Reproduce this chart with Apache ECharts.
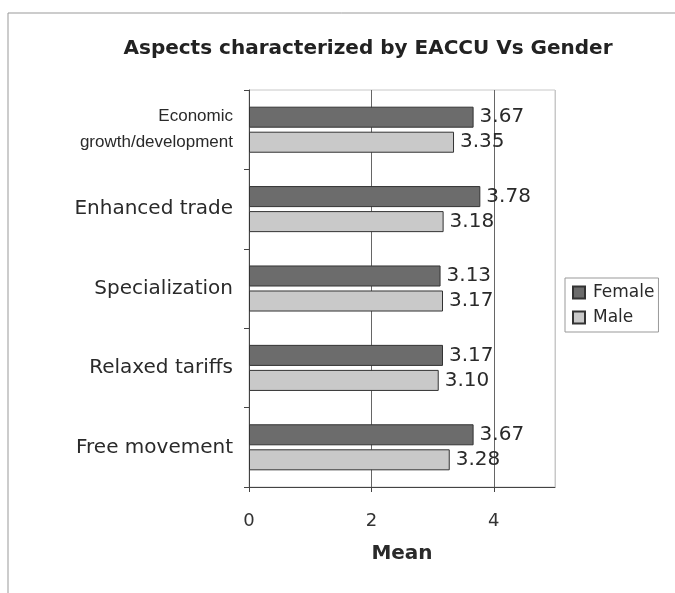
<!DOCTYPE html>
<html><head><meta charset="utf-8">
<script src="https://cdn.jsdelivr.net/npm/echarts@6/dist/echarts.min.js"></script>
<style>html,body{margin:0;padding:0;background:#fff}#c{width:675px;height:593px}</style>
</head><body><div id="c"></div>
<script>
const categories = ["Economic\ngrowth/development", "Enhanced trade", "Specialization", "Relaxed tariffs", "Free movement"];
const female = [3.67, 3.78, 3.13, 3.17, 3.67];
const male = [3.35, 3.18, 3.17, 3.10, 3.28];
const xTicks = [0, 2, 4];

const chart = echarts.init(document.getElementById('c'));
const font = "DejaVu Sans, sans-serif";
const lbl = {show: true, position: 'right', distance: 6, color: '#2a2a2a', fontSize: 20, fontFamily: font,
  formatter: p => p.value.toFixed(2)};
chart.setOption({
  animation: false,
  title: {text: 'Aspects characterized by EACCU Vs Gender', left: 363, textAlign: 'center', top: 34,
    textStyle: {fontSize: 20, fontWeight: 'bold', color: '#222', fontFamily: font}},
  legend: {orient: 'vertical', left: 565, top: 278, itemWidth: 12, itemHeight: 12, itemGap: 8, icon: 'rect',
    padding: [6, 4, 6, 7], borderColor: '#999', borderWidth: 1,
    textStyle: {fontSize: 17, color: '#2a2a2a', fontFamily: font, padding: [0, 0, 0, 3]},
    data: ['Female', 'Male']},
  grid: {left: 249, right: 120, top: 90, bottom: 106, show: true, borderColor: '#c8c8c8', borderWidth: 1},
  xAxis: {type: 'value', min: 0, max: 5, interval: 2,
    name: 'Mean', nameLocation: 'middle', nameGap: 57,
    nameTextStyle: {fontSize: 20, fontWeight: 'bold', color: '#2a2a2a', fontFamily: font},
    axisLine: {show: true, lineStyle: {color: '#444'}},
    axisTick: {show: true, length: 5, lineStyle: {color: '#444'}},
    axisLabel: {fontSize: 18, color: '#333', margin: 25, fontFamily: font, showMaxLabel: false,
      formatter: v => xTicks.includes(v) ? String(v) : ''},
    splitLine: {show: true, lineStyle: {color: ['#666', '#666', '#666', '#c8c8c8']}}},
  yAxis: {type: 'category', data: categories, inverse: true,
    axisLine: {show: true, lineStyle: {color: '#444'}},
    axisTick: {show: true, length: 5, lineStyle: {color: '#444'}},
    axisLabel: {margin: 16, color: '#2a2a2a', fontFamily: font,
      formatter: v => v.indexOf('\n') >= 0
        ? v.split('\n').map(s => '{s|' + s + '}').join('\n')
        : '{b|' + v + '}',
      rich: {
        s: {fontSize: 17, lineHeight: 26, fontFamily: 'Liberation Sans, Arial, sans-serif', color: '#2a2a2a', align: 'right'},
        b: {fontSize: 20, fontFamily: font, color: '#2a2a2a'}
      }}},
  series: [
    {name: 'Female', type: 'bar', data: female, barGap: '19%', barCategoryGap: '42%',
      itemStyle: {color: '#6c6c6c', borderColor: '#333', borderWidth: 1}, label: lbl},
    {name: 'Male', type: 'bar', data: male,
      itemStyle: {color: '#c9c9c9', borderColor: '#333', borderWidth: 1}, label: lbl}
  ],
  graphic: [
    {type: 'line', shape: {x1: 8, y1: 13, x2: 675, y2: 13}, style: {stroke: '#999', lineWidth: 1}},
    {type: 'line', shape: {x1: 8, y1: 13, x2: 8, y2: 593}, style: {stroke: '#999', lineWidth: 1}}
  ]
});
</script></body></html>
